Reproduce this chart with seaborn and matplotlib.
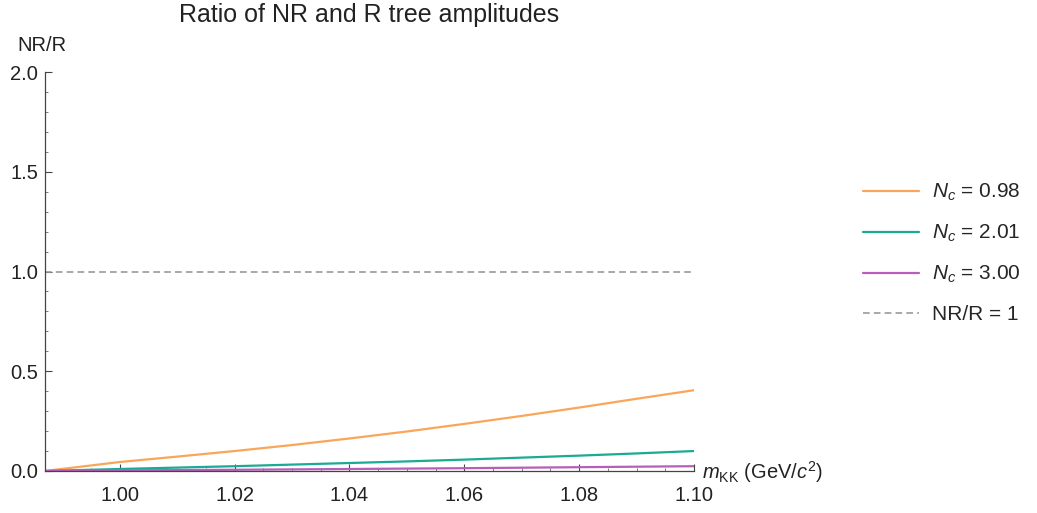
import numpy as np
import pandas as pd
import matplotlib
matplotlib.use("Agg")
import matplotlib.pyplot as plt
import seaborn as sns
from matplotlib.ticker import MultipleLocator
from matplotlib.lines import Line2D

# ---- data ----
m_kk = [0.987, 1.00, 1.01, 1.02, 1.03, 1.04, 1.05, 1.06, 1.07, 1.08, 1.09, 1.10]
ratio_nc098 = [0.0, 0.045, 0.072, 0.100, 0.130, 0.163, 0.198, 0.236, 0.276, 0.318, 0.362, 0.405]
ratio_nc201 = [0.0, 0.010, 0.017, 0.024, 0.032, 0.040, 0.048, 0.057, 0.067, 0.077, 0.088, 0.100]
ratio_nc300 = [0.0, 0.003, 0.0045, 0.006, 0.008, 0.010, 0.012, 0.014, 0.0165, 0.019, 0.0215, 0.024]
series_labels = ["$N_c$ = 0.98", "$N_c$ = 2.01", "$N_c$ = 3.00"]
ref_level = 1.0
ref_label = "NR/R = 1"
title = "Ratio of NR and R tree amplitudes"
ylabel = "NR/R"
xlabel = r"$m_{\mathrm{KK}}$ (GeV/$c^2$)"
x_ticks = [1.00, 1.02, 1.04, 1.06, 1.08, 1.10]
y_ticks = [0.0, 0.5, 1.0, 1.5, 2.0]

colors = ["#F9A65A", "#1BAA94", "#B65EB8"]

sns.set_style("white")
plt.rcParams["font.family"] = ["Liberation Sans", "DejaVu Sans"]
plt.rcParams["mathtext.fontset"] = "custom"
plt.rcParams["mathtext.rm"] = "Liberation Sans"
plt.rcParams["mathtext.it"] = "Liberation Sans:italic"
plt.rcParams["mathtext.bf"] = "Liberation Sans:bold"

df = pd.DataFrame({
    "m": m_kk * 3,
    "ratio": ratio_nc098 + ratio_nc201 + ratio_nc300,
    "series": [series_labels[0]] * len(m_kk) + [series_labels[1]] * len(m_kk) + [series_labels[2]] * len(m_kk),
})

fig = plt.figure(figsize=(10.37, 5.13), dpi=100)
ax = fig.add_axes([0.0434, 0.0819, 0.6259, 0.7777])

sns.lineplot(data=df, x="m", y="ratio", hue="series", palette=colors,
             hue_order=series_labels, ax=ax, linewidth=1.6, legend=False)
ax.plot([m_kk[0], m_kk[-1]], [ref_level, ref_level], color="#9a9a9a",
        linestyle=(0, (4, 2.5)), linewidth=1.2)

ax.set_xlim(m_kk[0], m_kk[-1])
ax.set_ylim(0, 2.0)
ax.set_xticks(x_ticks)
ax.set_xticklabels([f"{t:.2f}" for t in x_ticks])
ax.set_yticks(y_ticks)
ax.set_yticklabels([f"{t:.1f}" for t in y_ticks])
ax.xaxis.set_minor_locator(MultipleLocator(0.005))
ax.yaxis.set_minor_locator(MultipleLocator(0.1))
ax.tick_params(axis="both", which="both", bottom=True, left=True, top=False, right=False)
ax.tick_params(axis="both", which="major", direction="in", length=5, width=0.8,
               color="#444444", labelsize=14.5, labelcolor="#222222")
ax.tick_params(axis="x", which="major", pad=11)
ax.tick_params(axis="y", which="major", pad=5)
ax.tick_params(axis="both", which="minor", direction="in", length=2.5, width=0.6,
               color="#666666")
ax.set_xlabel("")
ax.set_ylabel("")
for s in ["top", "right"]:
    ax.spines[s].set_visible(False)
for s in ["left", "bottom"]:
    ax.spines[s].set_color("#444444")
    ax.spines[s].set_linewidth(0.9)

ax.set_title(title, fontsize=18, color="#222222", pad=36)
ax.annotate(ylabel, xy=(0, 1), xycoords="axes fraction", xytext=(-2, 12),
            textcoords="offset points", ha="center", va="bottom", fontsize=14.5,
            color="#222222")
ax.annotate(xlabel, xy=(1, 0), xycoords="axes fraction", xytext=(6, -1),
            textcoords="offset points", ha="left", va="center", fontsize=14.5,
            color="#222222")

handles = [Line2D([0], [0], color=c, linewidth=1.6) for c in colors]
handles.append(Line2D([0], [0], color="#9a9a9a", linestyle=(0, (4, 2.5)), linewidth=1.2))
fig.legend(handles, series_labels + [ref_label], loc="upper left",
           bbox_to_anchor=(0.814, 0.682), frameon=False, fontsize=15,
           handlelength=2.7, handletextpad=0.6, labelspacing=0.95)

fig.savefig("out.png", dpi=100)
